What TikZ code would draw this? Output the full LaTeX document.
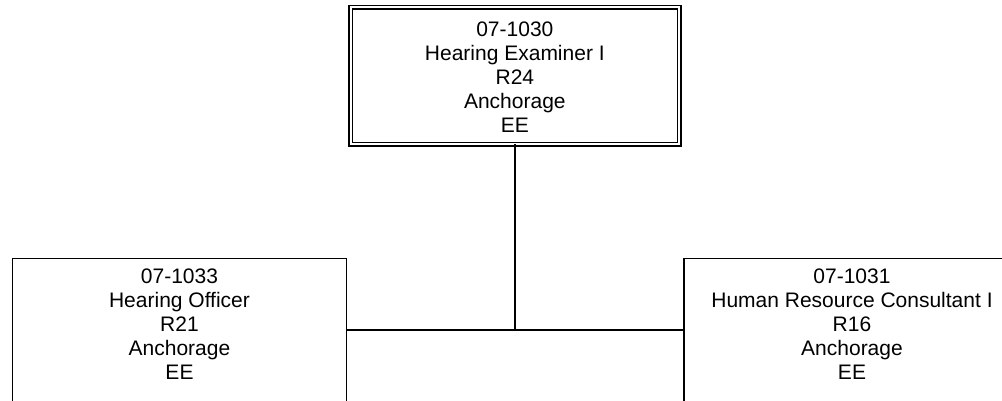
\documentclass[tikz,border=0pt]{standalone}
\usepackage{fontspec}
\setmainfont{Liberation Sans}
\usetikzlibrary{positioning}

\begin{document}
\begin{tikzpicture}[x=1pt, y=-1pt,
    orgbox/.style={draw, rectangle, line width=1.8pt, inner sep=0pt, outer sep=0pt},
    orgtext/.style={align=center, inner sep=0pt, outer sep=0pt, font=\fontsize{21}{24}\selectfont},
    link/.style={line width=1.8pt}]
    \useasboundingbox (0,0) rectangle (1002,401);
    \clip (0,0) rectangle (1002,401);
    % top position
    \node[orgbox, double, line width=1.5pt, double distance=2pt, minimum width=328.7pt, minimum height=136.7pt] (examiner) at (514.85,75.85) {};
    \node[orgtext, below=14.2pt of examiner.north] (examinertext) {07-1030\\Hearing Examiner I\\R24\\Anchorage\\EE};
    % positions below, boxes run past the lower edge
    \node[orgbox, minimum width=334pt, minimum height=161.5pt] (officer) at (179.5,339.25) {};
    \node[orgtext, below=10.5pt of officer.north] (officertext) {07-1033\\Hearing Officer\\R21\\Anchorage\\EE};
    \node[orgbox, minimum width=336pt, minimum height=161.5pt] (consultant) at (852,339.25) {};
    \node[orgtext, below=10.5pt of consultant.north] (consultanttext) {07-1031\\Human Resource Consultant I\\R16\\Anchorage\\EE};
    \coordinate (junction) at (514.85,330);
    \draw[link] (examiner.south) -- (junction);
    \draw[link] (officer.east |- junction) -- (consultant.west |- junction);
\end{tikzpicture}
\end{document}
